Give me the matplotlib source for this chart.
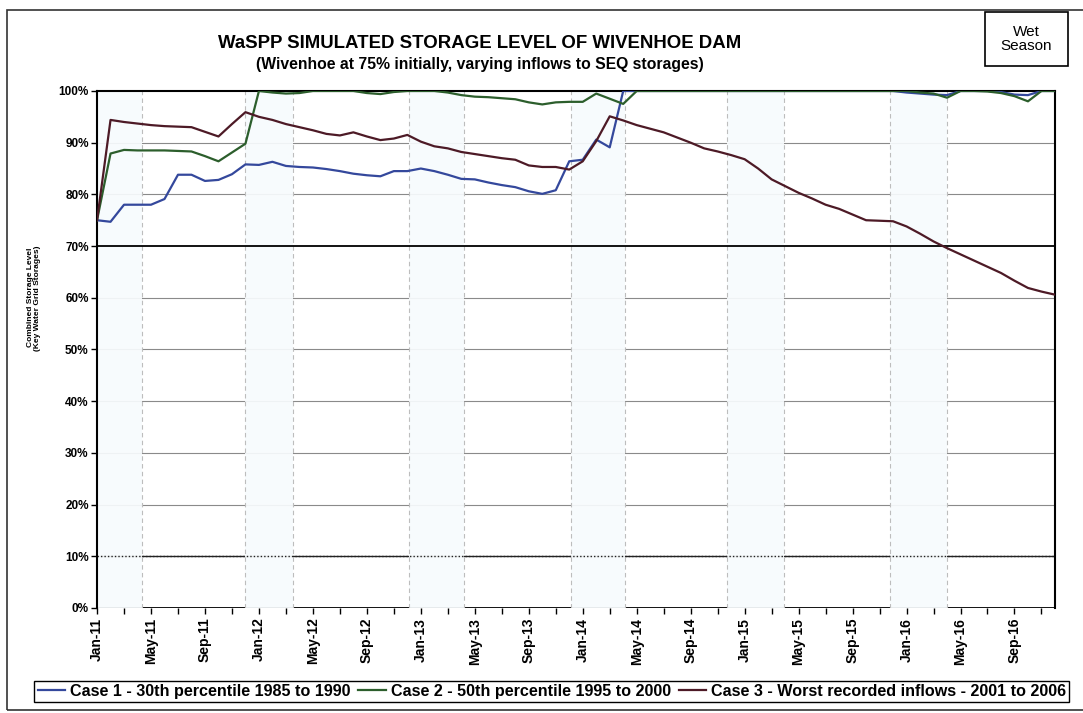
import matplotlib
matplotlib.use("Agg")
import matplotlib.pyplot as plt
import matplotlib.patches as mpatches
import numpy as np
import pandas as pd

plt.rcParams["font.family"] = ["Liberation Sans", "DejaVu Sans"]

# --- data (monthly, Jan-11 .. Dec-16), combined storage level in % ---
months = pd.date_range("2011-01-01", periods=72, freq="MS")
month_labels = list(months.strftime("%b-%y"))

case1 = [75.0, 74.7, 78.0, 78.0, 78.0, 79.1, 83.8, 83.8, 82.6, 82.8, 83.9, 85.8,
         85.7, 86.3, 85.5, 85.3, 85.2, 84.9, 84.5, 84.0, 83.7, 83.5, 84.5, 84.5,
         85.0, 84.5, 83.8, 83.0, 82.9, 82.3, 81.8, 81.4, 80.6, 80.1, 80.8, 86.4,
         86.7, 90.6, 89.1, 100, 100, 100, 100, 100, 100, 100, 100, 100,
         100, 100, 100, 100, 100, 100, 100, 100, 100, 100, 100, 100,
         99.7, 99.5, 99.3, 99.2, 100, 100, 100, 99.8, 99.3, 99.2, 100, 100]

case2 = [75.0, 87.9, 88.6, 88.5, 88.5, 88.5, 88.4, 88.3, 87.4, 86.4, 88.1, 89.8,
         100, 99.7, 99.5, 99.6, 100, 100, 100, 100, 99.6, 99.4, 99.8, 100,
         100, 100, 99.7, 99.2, 98.9, 98.8, 98.6, 98.4, 97.8, 97.4, 97.8, 97.9,
         97.9, 99.5, 98.5, 97.5, 100, 100, 100, 100, 100, 100, 100, 100,
         100, 100, 100, 100, 100, 100, 100, 100, 100, 100, 100, 100,
         100, 99.7, 99.5, 98.7, 100, 100, 99.9, 99.6, 99.0, 98.0, 100, 100]

case3 = [75.0, 94.4, 94.0, 93.7, 93.4, 93.2, 93.1, 93.0, 92.1, 91.2, 93.6, 95.9,
         95.0, 94.4, 93.6, 93.0, 92.4, 91.7, 91.4, 92.0, 91.2, 90.5, 90.8, 91.5,
         90.2, 89.3, 88.9, 88.2, 87.8, 87.4, 87.0, 86.7, 85.6, 85.3, 85.3, 84.8,
         86.4, 90.3, 95.1, 94.3, 93.4, 92.7, 92.0, 91.0, 90.0, 88.9, 88.3, 87.6,
         86.8, 85.0, 82.9, 81.6, 80.3, 79.2, 78.0, 77.2, 76.1, 75.0, 74.9, 74.8,
         73.8, 72.4, 70.9, 69.6, 68.4, 67.2, 66.0, 64.8, 63.3, 61.9, 61.2, 60.6]

series_names = ["Case 1 - 30th percentile 1985 to 1990",
                "Case 2 - 50th percentile 1995 to 2000",
                "Case 3 - Worst recorded inflows - 2001 to 2006"]
series_colors = ["#34489c", "#2c5e2c", "#4d1a26"]

# wet season bands (month index, start / end)
wet_start = [0, 11.0, 23.1, 35.1, 46.7, 58.8]
wet_end = [3.3, 14.5, 27.2, 39.1, 50.9, 63.0]

# --- figure ---
fig = plt.figure(figsize=(10.83, 7.13), dpi=100)
ax = fig.add_axes([0.0896, 0.1473, 0.8845, 0.7251])

x = np.arange(len(months))
ax.set_xlim(0, 71)
ax.set_ylim(0, 100)

# horizontal gridlines
for g in [20, 30, 40, 50, 60, 80, 90]:
    ax.axhline(g, color="#8a8a8a", lw=0.8, zorder=1)
ax.axhline(10, color="#222222", lw=1.0, zorder=1)
ax.axhline(0, color="black", lw=1.3, zorder=1)

# wet season shading
for s, e in zip(wet_start, wet_end):
    ax.axvspan(s, e, color="#f7fbfd", alpha=0.93, lw=0, zorder=1.5)
    for xe in (s, e):
        if 0 < xe < 71:
            ax.axvline(xe, color="#bdbdbd", lw=0.8, ls=(0, (4, 3)), zorder=1.6)

ax.axhline(10, color="#222222", lw=1.0, ls=(0, (1, 1.5)), zorder=2)
ax.axhline(70, color="black", lw=1.3, zorder=2)

for vals, name, col in zip([case1, case2, case3], series_names, series_colors):
    ax.plot(x, vals, color=col, lw=1.6, label=name, zorder=3)

# spines
ax.spines["bottom"].set_visible(False)
for sp in ["left", "top", "right"]:
    ax.spines[sp].set_linewidth(1.5)
    ax.spines[sp].set_color("black")

# ticks
ax.set_yticks(np.arange(0, 101, 10))
ax.set_yticklabels([f"{v}%" for v in range(0, 101, 10)])
ax.set_xticks(x[::4])
ax.set_xticklabels(month_labels[::4], rotation=90)
ax.set_xticks(x[2::4], minor=True)
ax.tick_params(axis="y", labelsize=8.5, length=4, width=1, pad=2)
ax.tick_params(axis="x", which="both", labelsize=10, length=4, width=1, pad=3)
for lab in ax.get_xticklabels() + ax.get_yticklabels():
    lab.set_fontweight("bold")

ax.set_ylabel("Combined Storage Level\n(Key Water Grid Storages)", fontsize=6,
              fontweight="bold", linespacing=1.1)
ax.yaxis.set_label_coords(-0.058, 0.6)

# titles
fig.text(0.443, 1 - 44 / 713, "WaSPP SIMULATED STORAGE LEVEL OF WIVENHOE DAM",
         ha="center", va="center", fontsize=13.4, fontweight="bold")
fig.text(0.443, 1 - 64 / 713, "(Wivenhoe at 75% initially, varying inflows to SEQ storages)",
         ha="center", va="center", fontsize=11.3, fontweight="bold")

# wet season box
fig.patches.append(mpatches.Rectangle((985 / 1083, 1 - 66 / 713), 83 / 1083, 54 / 713,
                                      transform=fig.transFigure, fill=False,
                                      ec="black", lw=1.2))
fig.text(1026.5 / 1083, 1 - 39 / 713, "Wet\nSeason", ha="center", va="center",
         fontsize=11, linespacing=1.05)

# outer frame
fig.patches.append(mpatches.Rectangle((7 / 1083, 3 / 713), 1.1, 700 / 713,
                                      transform=fig.transFigure, fill=False,
                                      ec="#333333", lw=1.2))

leg = fig.legend(loc="center", bbox_to_anchor=(0.5095, 0.0305), ncol=3,
                 fontsize=11.6, handlelength=1.7, handletextpad=0.3,
                 columnspacing=0.5, borderpad=0.2, fancybox=False,
                 edgecolor="black", framealpha=1)
leg.get_frame().set_linewidth(1.0)
for t in leg.get_texts():
    t.set_fontweight("bold")

fig.savefig("out.png", dpi=100)
